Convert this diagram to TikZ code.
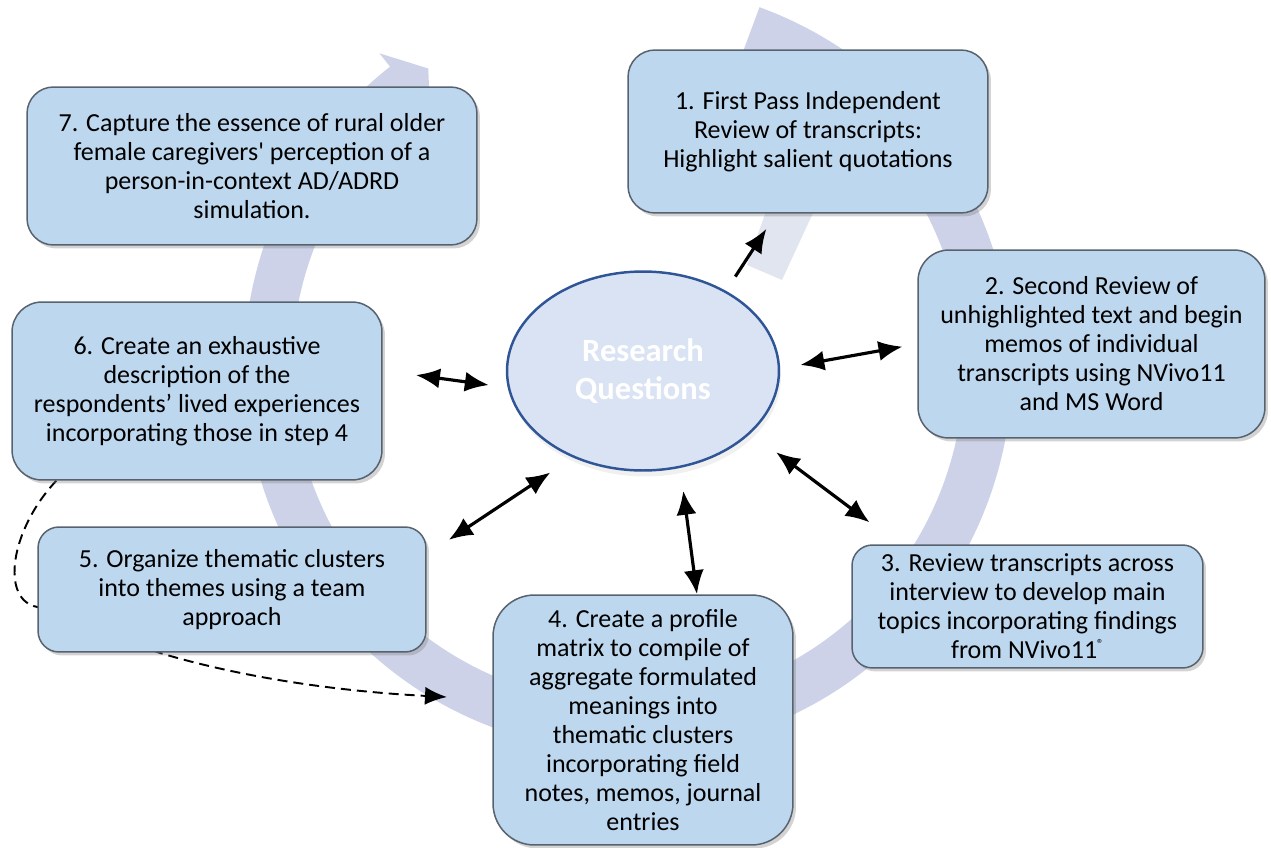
\documentclass[tikz,border=0pt]{standalone}
\usepackage{fontspec}
\setmainfont{Carlito}
\usetikzlibrary{arrows.meta,shapes.geometric,shadows}
\definecolor{ringblue}{RGB}{205,210,233}
\definecolor{ringpale}{RGB}{225,229,239}
\definecolor{boxblue}{RGB}{189,215,238}
\definecolor{boxedge}{RGB}{88,98,110}
\definecolor{rqfill}{RGB}{218,227,243}
\definecolor{rqedge}{RGB}{47,85,151}
\pgfdeclarelayer{back}
\pgfsetlayers{back,main}
\tikzset{
  stepbox/.style={draw=boxedge, fill=boxblue, line width=0.85pt, rounded corners=#1,
    inner sep=0pt, align=center, font=\fontsize{14.8pt}{16.5pt}\selectfont,
    drop shadow={shadow xshift=0.06cm, shadow yshift=-0.07cm, opacity=0.35}},
  stepbox/.default=0.55cm,
  link/.style={line width=1.8pt, <->, >={Latex[length=0.48cm,width=0.4cm]}},
}

\begin{document}
\begin{tikzpicture}[x=0.02cm,y=-0.02cm]
  \useasboundingbox (0,0) rectangle (1271,848);
  % Ring
  \begin{pgfonlayer}{back}
    \begin{scope}[shift={(628,368)}]
      \draw[ringblue, line width=0.96cm] (-70:360) arc[start angle=-70, end angle=232, radius=360];
      \fill[ringblue] (-128.3:401) -- (-123.7:360) -- (-128.3:319) -- cycle;
    \end{scope}
    \fill[ringpale] (770,200) -- (819,200) -- (782,280) -- (747,265) -- cycle;
  \end{pgfonlayer}
  % Steps
  \node[stepbox=0.54cm, minimum width=7.2cm, minimum height=3.26cm] (s1) at (808,131.5)
    {1. First Pass Independent\\Review of transcripts:\\Highlight salient quotations};
  \node[stepbox=0.62cm, minimum width=6.94cm, minimum height=3.76cm] (s2) at (1091.5,344)
    {2. Second Review of\\unhighlighted text and begin\\memos of individual\\transcripts using NVivo11\\and MS Word};
  \node[stepbox=0.41cm, minimum width=7.02cm, minimum height=2.46cm] (s3) at (1027.5,606.5)
    {3. Review transcripts across\\interview to develop main\\topics incorporating findings\\from NVivo11\raisebox{0.85ex}{\fontsize{7.5pt}{7.5pt}\selectfont ®}};
  \node[stepbox=0.83cm, minimum width=6cm, minimum height=5cm] (s4) at (643,720)
    {4. Create a profile\\matrix to compile of\\aggregate formulated\\meanings into\\thematic clusters\\incorporating field\\notes, memos, journal\\entries};
  \node[stepbox=0.42cm, minimum width=7.76cm, minimum height=2.5cm] (s5) at (232,589.5)
    {5. Organize thematic clusters\\into themes using a team\\approach};
  \node[stepbox=0.6cm, minimum width=7.4cm, minimum height=3.56cm] (s6) at (197,391)
    {6. Create an exhaustive\\description of the\\respondents’ lived experiences\\incorporating those in step 4};
  \node[stepbox=0.53cm, minimum width=9cm, minimum height=3.16cm] (s7) at (252,166)
    {7. Capture the essence of rural older\\female caregivers\textquotesingle{} perception of a\\person-in-context AD/ADRD\\simulation.};
  % Centre
  \node[ellipse, draw=rqedge, line width=1.4pt, fill=rqfill, minimum width=5.44cm, minimum height=3.98cm,
    inner sep=0pt, align=center, text=white, font=\fontsize{18.5pt}{21.6pt}\selectfont\bfseries,
    drop shadow={shadow xshift=0.04cm, shadow yshift=-0.12cm, opacity=0.12}] (rq) at (643,371)
    {Research\\Questions};
  % Links
  \draw[link, ->, shorten <=0.34cm, shorten >=0.36cm] (rq.44) -- ([xshift=2.98cm]s1.south west);
  \draw[link, shorten <=0.41cm, shorten >=0.3cm] (rq.1) -- (s2.west);
  \draw[link, shorten <=0.63cm, shorten >=0.73cm] (rq.330) -- ([xshift=0.95cm]s3.north west);
  \draw[link, shorten <=0.46cm] (rq.291) -- ([xshift=1.08cm]s4.north);
  \draw[link, shorten <=0.54cm, shorten >=0.53cm] (rq.231.5) -- ([yshift=0.7cm]s5.east);
  \draw[link, shorten <=0.38cm, shorten >=0.67cm] (rq.187) -- ([yshift=0.41cm]s6.east);
  % Loop back from step 6
  \coordinate (dashend) at (447,697);
  \begin{pgfonlayer}{back}
    \draw[line width=1.1pt, dash pattern=on 0.2cm off 0.12cm, -{Latex[length=0.44cm,width=0.36cm]}]
      ([xshift=0.9cm]s6.south west) .. controls (10,530) and (0,600) .. ([yshift=-0.35cm]s5.west)
      -- ([xshift=2.44cm]s5.south west) .. controls (250,680) and (350,692) .. (dashend);
  \end{pgfonlayer}
\end{tikzpicture}
\end{document}
